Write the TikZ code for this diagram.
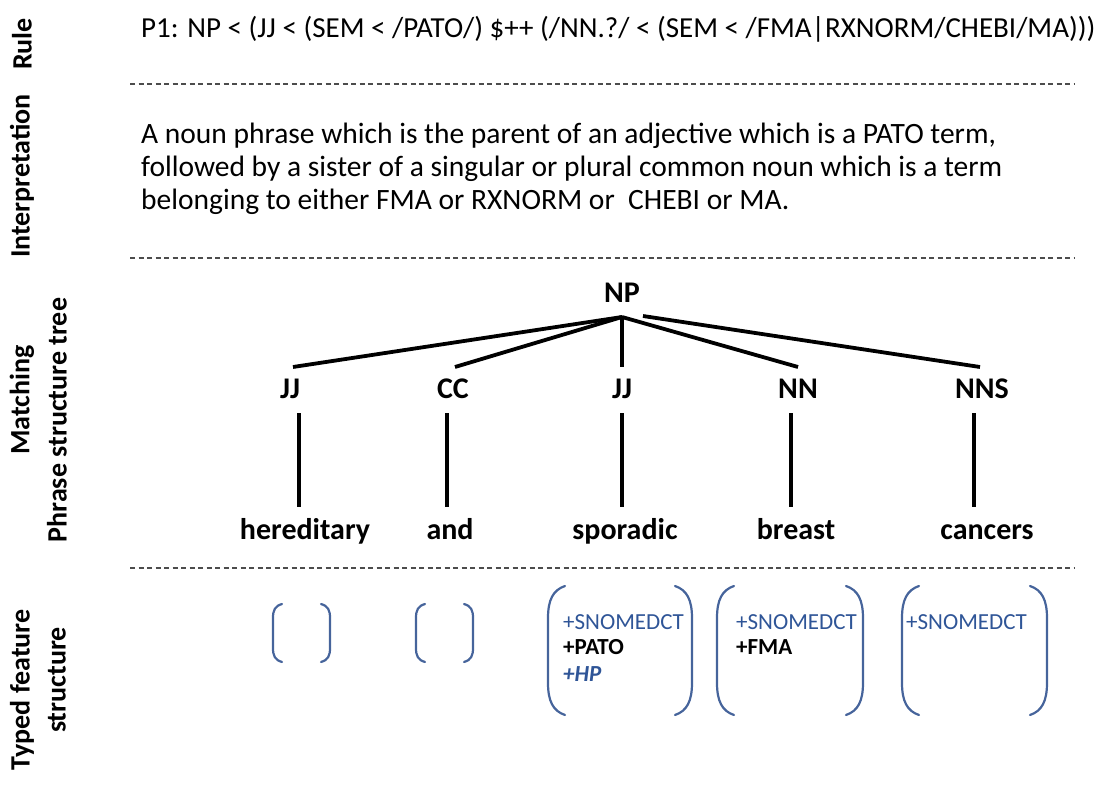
\documentclass[tikz,border=0pt]{standalone}
\usepackage{fontspec}
\setmainfont{Carlito}
\definecolor{tblue}{RGB}{47,85,151}
\definecolor{bblue}{RGB}{70,100,155}
\begin{document}
\begin{tikzpicture}[x=1pt,y=-1pt,
  side/.style={font=\fontsize{28}{30}\selectfont\bfseries, rotate=90, inner sep=0pt},
  sep/.style={draw=black!70, line width=1.1pt, dash pattern=on 5pt off 3.5pt},
  cat/.style={font=\fontsize{30}{32}\selectfont\bfseries, inner sep=0pt, anchor=base},
  word/.style={font=\fontsize{30}{32}\selectfont\bfseries, inner sep=0pt, anchor=base},
  edge/.style={line width=3.8pt},
  brk/.style={draw=bblue, line width=2.2pt, line cap=round},
  feat/.style={font=\fontsize{23}{27}\selectfont, text=tblue, anchor=base west, inner sep=0pt},
  featb/.style={font=\fontsize{23}{27}\selectfont\bfseries, anchor=base west, inner sep=0pt},
  feath/.style={font=\fontsize{23}{27}\selectfont\bfseries\itshape, text=tblue, anchor=base west, inner sep=0pt}]
\useasboundingbox (0,0) rectangle (1098,786);

% side labels
\node[side] (lrule) at (22,44) {Rule};
\node[side] (linterp) at (22,176) {Interpretation};
\node[side] (lmatch) at (22,400) {Matching};
\node[side] (lphrase) at (57,420) {Phrase structure tree};
\node[side] (ltyped) at (22,690) {Typed feature};
\node[side] (lstruct) at (57,680) {structure};

% rule
\node[anchor=base west, inner sep=0pt, font=\fontsize{29}{32}\selectfont] (rule) at (141,38)
  {P1: NP < (JJ < (SEM < /PATO/) \$++ (/NN.?/ < (SEM < /FMA|RXNORM/CHEBI/MA)))};

% separators
\coordinate (s1a) at (130,84); \coordinate (s1b) at (1075,84);
\coordinate (s2a) at (130,258); \coordinate (s2b) at (1075,258);
\coordinate (s3a) at (130,568); \coordinate (s3b) at (1075,568);
\draw[sep] (s1a) -- (s1b);
\draw[sep] (s2a) -- (s2b);
\draw[sep] (s3a) -- (s3b);

% interpretation
\node[anchor=base west, inner sep=0pt, align=left, font=\fontsize{29.5}{33}\selectfont] (interp) at (141,210)
  {A noun phrase which is the parent of an adjective which is a PATO term,\\
   followed by a sister of a singular or plural common noun which is a term\\
   belonging to either FMA or RXNORM or\ \ CHEBI or MA.};

% tree
\node[cat] (np) at (622,303) {NP};
\node[cat] (jj1) at (290,398) {JJ};
\node[cat] (cc) at (453,398) {CC};
\node[cat] (jj2) at (622,398) {JJ};
\node[cat] (nn) at (798,398) {NN};
\node[cat] (nns) at (982,398) {NNS};

\coordinate (apex) at (622,317);
\coordinate (apex2) at (643,316);
\coordinate (e1) at (293,367);
\coordinate (e2) at (455,367);
\coordinate (e3) at (622,367);
\coordinate (e4) at (798,367);
\coordinate (e5) at (980,367);
\draw[edge] (apex) -- (e1);
\draw[edge] (apex) -- (e2);
\draw[edge] (apex) -- (e3);
\draw[edge] (apex) -- (e4);
\draw[edge] (apex2) -- (e5);

\node[word] (w1) at (305,539) {hereditary};
\node[word] (w2) at (450,539) {and};
\node[word] (w3) at (625,539) {sporadic};
\node[word] (w4) at (796,539) {breast};
\node[word] (w5) at (987,539) {cancers};

\coordinate (v1a) at (299,413); \coordinate (v1b) at (299,507);
\coordinate (v2a) at (447,413); \coordinate (v2b) at (447,507);
\coordinate (v3a) at (622,413); \coordinate (v3b) at (622,507);
\coordinate (v4a) at (791,413); \coordinate (v4b) at (791,507);
\coordinate (v5a) at (974,413); \coordinate (v5b) at (974,507);
\draw[edge] (v1a) -- (v1b);
\draw[edge] (v2a) -- (v2b);
\draw[edge] (v3a) -- (v3b);
\draw[edge] (v4a) -- (v4b);
\draw[edge] (v5a) -- (v5b);

% small brackets
\draw[brk] (282,604) .. controls (275,606) and (273,610) .. (273,618) -- (273,648) .. controls (273,656) and (275,660) .. (282,662);
\draw[brk] (321,604) .. controls (328,606) and (330,610) .. (330,618) -- (330,648) .. controls (330,656) and (328,660) .. (321,662);
\draw[brk] (425,604) .. controls (418,606) and (416,610) .. (416,618) -- (416,648) .. controls (416,656) and (418,660) .. (425,662);
\draw[brk] (464,604) .. controls (471,606) and (473,610) .. (473,618) -- (473,648) .. controls (473,656) and (471,660) .. (464,662);

% big brackets
\draw[brk] (565,586) .. controls (553,590) and (548,600) .. (548,618) -- (548,683) .. controls (548,701) and (553,711) .. (565,715);
\draw[brk] (675,586) .. controls (687,590) and (692,600) .. (692,618) -- (692,683) .. controls (692,701) and (687,711) .. (675,715);
\draw[brk] (734,586) .. controls (722,590) and (717,600) .. (717,618) -- (717,683) .. controls (717,701) and (722,711) .. (734,715);
\draw[brk] (846,586) .. controls (858,590) and (863,600) .. (863,618) -- (863,683) .. controls (863,701) and (858,711) .. (846,715);
\draw[brk] (919,586) .. controls (907,590) and (902,600) .. (902,618) -- (902,683) .. controls (902,701) and (907,711) .. (919,715);
\draw[brk] (1030,586) .. controls (1042,590) and (1047,600) .. (1047,618) -- (1047,683) .. controls (1047,701) and (1042,711) .. (1030,715);

% features
\node[feat] (f1a) at (563,629) {+SNOMEDCT};
\node[featb] (f1b) at (563,654) {+PATO};
\node[feath] (f1c) at (563,681) {+HP};
\node[feat] (f2a) at (736,629) {+SNOMEDCT};
\node[featb] (f2b) at (736,654) {+FMA};
\node[feat] (f3a) at (906,629) {+SNOMEDCT};
\end{tikzpicture}
\end{document}
